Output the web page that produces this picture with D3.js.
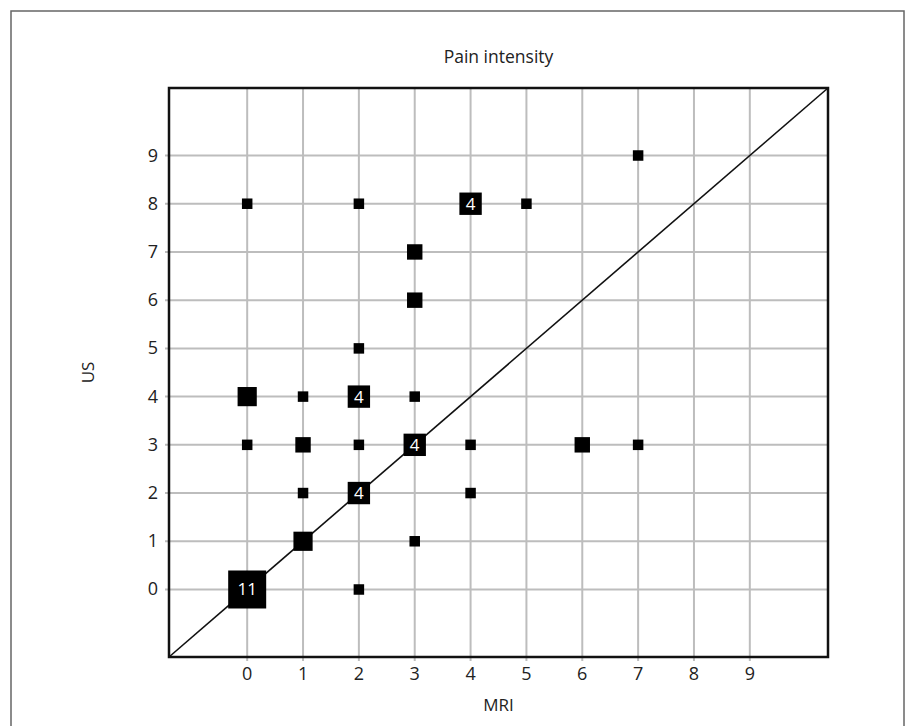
<!DOCTYPE html>
<html>
<head>
<meta charset="utf-8">
<script src="https://cdn.jsdelivr.net/npm/d3@7"></script>
<style>
  body { margin: 0; background: #fff; }
  svg { display: block; font-family: "Open Sans", sans-serif; }
</style>
</head>
<body>
<svg id="chart"></svg>
<script>
// MRI score, US score, number of patients at that point
const mriValues = [0, 2, 4, 5, 7, 3, 3, 2, 0, 1, 2, 3, 0, 1, 2, 3, 4, 6, 7, 1, 2, 4, 1, 3, 0, 2];
const usValues  = [8, 8, 8, 8, 9, 7, 6, 5, 4, 4, 4, 4, 3, 3, 3, 3, 3, 3, 3, 2, 2, 2, 1, 1, 0, 0];
const counts    = [1, 1, 4, 1, 1, 2, 2, 1, 3, 1, 4, 1, 1, 2, 1, 4, 1, 2, 1, 1, 4, 1, 3, 1, 11, 1];
const tickValues = [0, 1, 2, 3, 4, 5, 6, 7, 8, 9];

const width = 907;
const height = 726;
const margin = { top: 88, right: 79, bottom: 69, left: 169 };

const svg = d3.select("#chart").attr("width", width).attr("height", height);

// outer frame of the figure
svg.append("rect")
  .attr("x", 11).attr("y", 11)
  .attr("width", 893).attr("height", 740)
  .attr("fill", "none")
  .attr("stroke", "#666")
  .attr("stroke-width", 1.5);

const x = d3.scaleLinear()
  .domain([-1.4, 10.4])
  .range([margin.left, width - margin.right]);

const y = d3.scaleLinear()
  .domain([-1.4, 10.4])
  .range([height - margin.bottom, margin.top]);

const size = d3.scaleSqrt().domain([1, 11]).range([10.5, 38]);

const data = mriValues.map((m, i) => ({ mri: m, us: usValues[i], n: counts[i] }));

// grid
svg.append("g")
  .selectAll("line")
  .data(tickValues)
  .join("line")
  .attr("x1", d => x(d)).attr("x2", d => x(d))
  .attr("y1", y.range()[1]).attr("y2", y.range()[0] + 4)
  .attr("stroke", "#bdbdbd")
  .attr("stroke-width", 2);

svg.append("g")
  .selectAll("line")
  .data(tickValues)
  .join("line")
  .attr("y1", d => y(d)).attr("y2", d => y(d))
  .attr("x1", x.range()[0] - 4).attr("x2", x.range()[1])
  .attr("stroke", "#bdbdbd")
  .attr("stroke-width", 2);

// tick labels
svg.append("g")
  .selectAll("text")
  .data(tickValues)
  .join("text")
  .attr("x", d => x(d))
  .attr("y", height - margin.bottom + 23)
  .attr("text-anchor", "middle")
  .attr("font-size", 18)
  .attr("fill", "#222")
  .text(d => d);

svg.append("g")
  .selectAll("text")
  .data(tickValues)
  .join("text")
  .attr("x", margin.left - 11)
  .attr("y", d => y(d) + 6)
  .attr("text-anchor", "end")
  .attr("font-size", 18)
  .attr("fill", "#222")
  .text(d => d);

// diagonal of agreement
svg.append("line")
  .attr("x1", x(-1.4)).attr("y1", y(-1.4))
  .attr("x2", x(10.4)).attr("y2", y(10.4))
  .attr("stroke", "#111")
  .attr("stroke-width", 1.6);

// plot frame
svg.append("rect")
  .attr("x", x.range()[0]).attr("y", y.range()[1])
  .attr("width", x.range()[1] - x.range()[0])
  .attr("height", y.range()[0] - y.range()[1])
  .attr("fill", "none")
  .attr("stroke", "#111")
  .attr("stroke-width", 2.5);

// squares
svg.append("g")
  .selectAll("rect")
  .data(data)
  .join("rect")
  .attr("x", d => x(d.mri) - size(d.n) / 2)
  .attr("y", d => y(d.us) - size(d.n) / 2)
  .attr("width", d => size(d.n))
  .attr("height", d => size(d.n))
  .attr("fill", "#000");

svg.append("g")
  .selectAll("text")
  .data(data.filter(d => d.n >= 4))
  .join("text")
  .attr("x", d => x(d.mri))
  .attr("y", d => y(d.us) + 6)
  .attr("text-anchor", "middle")
  .attr("font-size", 17)
  .attr("fill", "#fff")
  .text(d => d.n);

// titles
svg.append("text")
  .attr("x", (x.range()[0] + x.range()[1]) / 2)
  .attr("y", 63)
  .attr("text-anchor", "middle")
  .attr("font-size", 17.5)
  .attr("fill", "#222")
  .text("Pain intensity");

svg.append("text")
  .attr("x", (x.range()[0] + x.range()[1]) / 2)
  .attr("y", 711)
  .attr("text-anchor", "middle")
  .attr("font-size", 17)
  .attr("fill", "#222")
  .text("MRI");

svg.append("text")
  .attr("transform", `translate(94,${(y.range()[0] + y.range()[1]) / 2}) rotate(-90)`)
  .attr("text-anchor", "middle")
  .attr("font-size", 17)
  .attr("fill", "#222")
  .text("US");
</script>
</body>
</html>
